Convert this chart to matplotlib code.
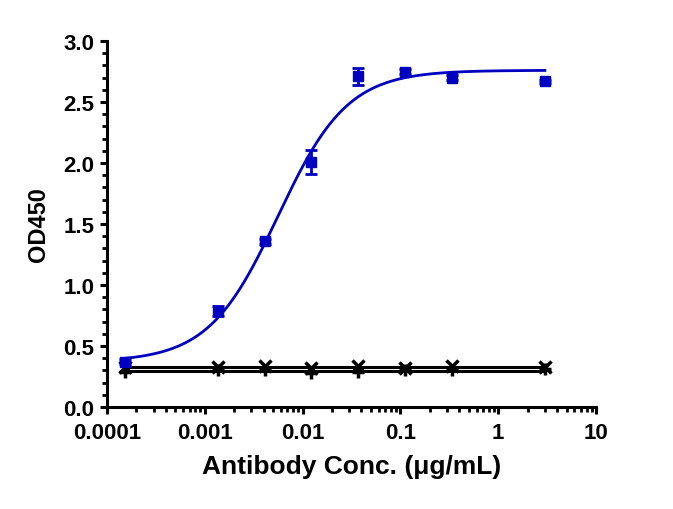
import numpy as np
import matplotlib
matplotlib.use("Agg")
import matplotlib.pyplot as plt
from matplotlib.ticker import FixedLocator, MultipleLocator, LogLocator, NullFormatter, FormatStrFormatter

plt.rcParams['font.family'] = ['Liberation Sans', 'DejaVu Sans']
plt.rcParams['font.weight'] = 'bold'

# concentrations (ug/mL), 3-fold dilutions from 3
conc = [0.000152, 0.00137, 0.00412, 0.0123, 0.037, 0.111, 0.333, 3.0]

# antibody response (blue squares)
od_ab = [0.37, 0.79, 1.36, 2.01, 2.71, 2.75, 2.70, 2.67]
err_ab = [0.02, 0.04, 0.02, 0.10, 0.07, 0.02, 0.02, 0.01]

# controls (black)
od_ctrl1 = [0.33, 0.33, 0.335, 0.32, 0.34, 0.32, 0.34, 0.33]
od_ctrl2 = [0.29, 0.30, 0.30, 0.28, 0.29, 0.30, 0.30, 0.31]

# 4PL fit parameters
bottom, top, ec50, hill = 0.37, 2.76, 0.0056, 1.22

blue = '#0000C0'

fig = plt.figure(figsize=(6.73, 5.10), dpi=100)
ax = fig.add_axes([0.159, 0.2, 0.7266, 0.7176])

xs = np.logspace(np.log10(conc[0]), np.log10(conc[-1]), 300)
ax.plot(xs, bottom + (top - bottom) / (1 + (ec50 / xs) ** hill), color=blue, lw=2.0, zorder=3)
ax.errorbar(conc, od_ab, yerr=err_ab, fmt='s', color=blue, ms=7, capsize=4, elinewidth=2, capthick=2, zorder=4)

for vals, mk in [(od_ctrl1, 'x'), (od_ctrl2, '+')]:
    ax.plot([conc[0], conc[-1]], [np.mean(vals)] * 2, color='black', lw=2.2, zorder=2)
    ax.plot(conc, vals, mk, color='black', ms=8, mew=2.5, zorder=2)

ax.set_xscale('log')
ax.set_xlim(0.0001, 10)
ax.set_ylim(0, 3.0)
ax.xaxis.set_major_locator(FixedLocator([0.0001, 0.001, 0.01, 0.1, 1, 10]))
ax.set_xticklabels(['0.0001', '0.001', '0.01', '0.1', '1', '10'])
ax.xaxis.set_minor_locator(LogLocator(base=10, subs=np.arange(2, 10)))
ax.xaxis.set_minor_formatter(NullFormatter())
ax.yaxis.set_major_locator(MultipleLocator(0.5))
ax.yaxis.set_minor_locator(MultipleLocator(0.1))
ax.yaxis.set_major_formatter(FormatStrFormatter('%.1f'))

for s in ['top', 'right']:
    ax.spines[s].set_visible(False)
for s in ['left', 'bottom']:
    ax.spines[s].set_linewidth(2.2)
ax.tick_params(which='major', length=5, width=2.2, labelsize=16, pad=4)
ax.tick_params(axis='x', which='major', pad=6)
ax.tick_params(which='minor', length=3.5, width=2)
for lab in ax.get_xticklabels() + ax.get_yticklabels():
    lab.set_fontweight('bold')

ax.set_xlabel('Antibody Conc. (μg/mL)', fontsize=19, fontweight='bold', labelpad=8)
ax.set_ylabel('OD450', fontsize=17, fontweight='bold', labelpad=10)

plt.savefig('out.png', dpi=100)
